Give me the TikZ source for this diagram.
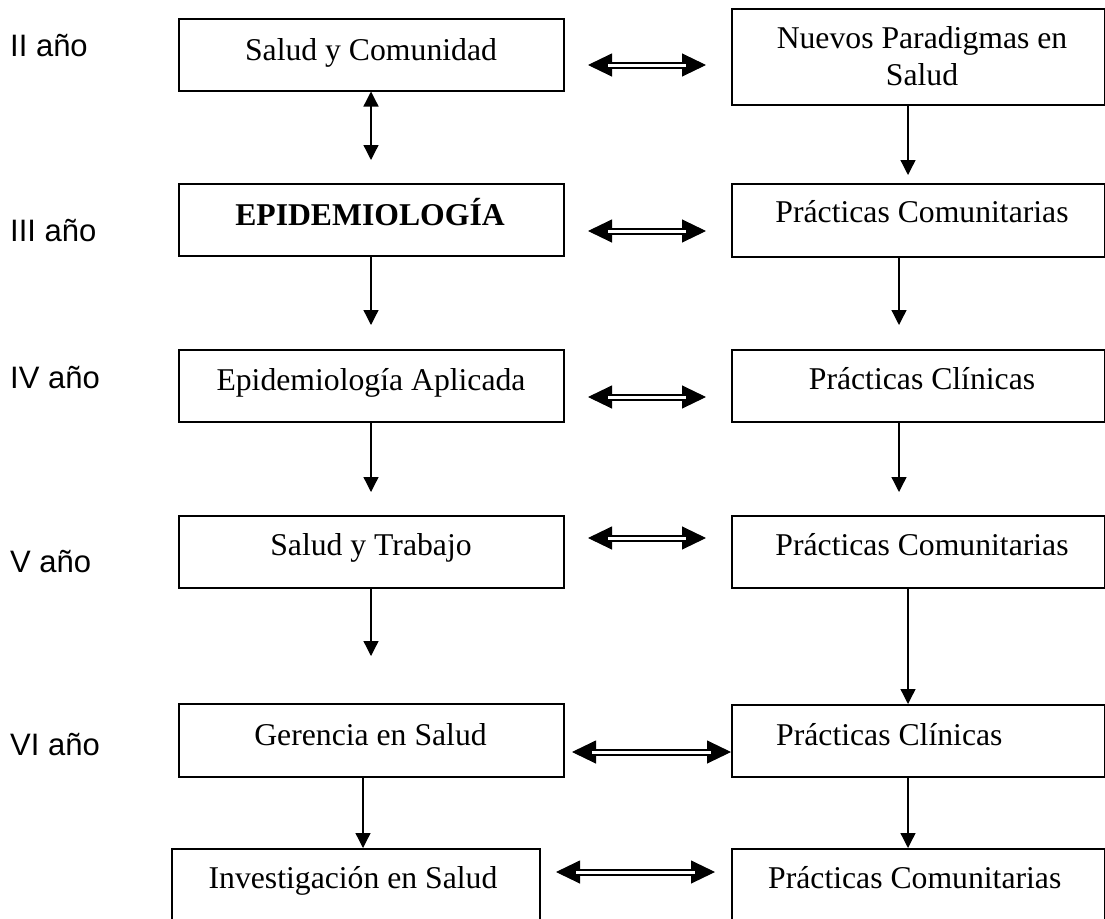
\documentclass[tikz,border=0pt]{standalone}
\usepackage{fontspec}
\setmainfont{Liberation Serif}
\newfontfamily\lblfont{Liberation Sans}
\usetikzlibrary{arrows.meta}
\begin{document}
\begin{tikzpicture}[x=1pt,y=-1pt,
  box/.style={draw, line width=1.5pt, inner sep=0pt, anchor=north west},
  txt/.style={inner sep=0pt, anchor=base, font=\fontsize{31.7}{36}\selectfont},
  txtw/.style={inner sep=0pt, anchor=base west, font=\fontsize{31.7}{36}\selectfont},
  yr/.style={inner sep=0pt, anchor=base west, font=\lblfont\fontsize{31}{36}\selectfont},
  varr/.style={line width=1.3pt, -{Triangle[width=15pt,length=15pt]}},
  vdarr/.style={line width=1.3pt, {Triangle[width=15pt,length=15pt]}-{Triangle[width=15pt,length=15pt]}},
  dhead/.style={line width=1pt, {Triangle[width=23pt,length=24pt]}-{Triangle[width=23pt,length=24pt]}},
  dshaft/.style={line width=2pt, double=white, double distance=3pt, shorten <=20pt, shorten >=20pt}
]
\useasboundingbox (0,0) rectangle (1105,918);

% year labels
\node[yr] (y2) at (10,56) {II año};
\node[yr] (y3) at (10,241) {III año};
\node[yr] (y4) at (10,388) {IV año};
\node[yr] (y5) at (10,572) {V año};
\node[yr] (y6) at (10,755) {VI año};

% left boxes
\node[box, minimum width=385pt, minimum height=72pt] (sc) at (178,18) {};
\node[box, minimum width=385pt, minimum height=72pt] (epi) at (178,183) {};
\node[box, minimum width=385pt, minimum height=72pt] (ea) at (178,349) {};
\node[box, minimum width=385pt, minimum height=72pt] (st) at (178,515) {};
\node[box, minimum width=385pt, minimum height=73pt] (ger) at (178,703) {};
\node[box, minimum width=368pt, minimum height=110pt] (inv) at (171,848) {};

% right boxes
\node[box, minimum width=373pt, minimum height=96pt] (np) at (731,8) {};
\node[box, minimum width=373pt, minimum height=73pt] (pc3) at (731,183) {};
\node[box, minimum width=373pt, minimum height=72pt] (pcl4) at (731,349) {};
\node[box, minimum width=373pt, minimum height=72pt] (pc5) at (731,515) {};
\node[box, minimum width=373pt, minimum height=72pt] (pcl6) at (731,704) {};
\node[box, minimum width=373pt, minimum height=110pt] (pc7) at (731,848) {};

% texts
\node[txt] (tsc) at (371,60) {Salud y Comunidad};
\node[txt] (tepi) at (370,225) {\bfseries EPIDEMIOLOGÍA};
\node[txt] (tea) at (371,390) {Epidemiología Aplicada};
\node[txt] (tst) at (371,555) {Salud y Trabajo};
\node[txt] (tger) at (370.5,745) {Gerencia en Salud};
\node[txt] (tinv) at (353,888) {Investigación en Salud};

\node[txt] (tnp1) at (922,48) {Nuevos Paradigmas en};
\node[txt] (tnp2) at (922,85) {Salud};
\node[txt] (tpc3) at (922,222) {Prácticas Comunitarias};
\node[txt] (tpcl4) at (922,389) {Prácticas Clínicas};
\node[txt] (tpc5) at (922,555) {Prácticas Comunitarias};
\node[txtw] (tpcl6) at (776,745) {Prácticas Clínicas};
\node[txtw] (tpc7) at (768,888) {Prácticas Comunitarias};

% vertical arrows, left column
\coordinate (e1) at (371,160);
\coordinate (e2) at (371,325);
\coordinate (e3) at (371,492);
\coordinate (e4) at (371,656);
\coordinate (c5) at (363,800);
\draw[vdarr] (sc.south -| e1) -- (e1);
\draw[varr] (epi.south -| e2) -- (e2);
\draw[varr] (ea.south -| e3) -- (e3);
\draw[varr] (st.south -| e4) -- (e4);
\draw[varr] (ger.south -| c5) -- (inv.north -| c5);

% vertical arrows, right column
\coordinate (e6) at (908,175);
\coordinate (e7) at (899,325);
\coordinate (e8) at (899,492);
\coordinate (c9) at (908,640);
\draw[varr] (np.south -| e6) -- (e6);
\draw[varr] (pc3.south -| e7) -- (e7);
\draw[varr] (pcl4.south -| e8) -- (e8);
\draw[varr] (pc5.south -| c9) -- (pcl6.north -| c9);
\draw[varr] (pcl6.south -| c9) -- (pc7.north -| c9);

% double arrows
\coordinate (dl2) at (588,65);  \coordinate (dr2) at (706,65);
\coordinate (dl3) at (588,231); \coordinate (dr3) at (706,231);
\coordinate (dl4) at (588,397); \coordinate (dr4) at (706,397);
\coordinate (dl5) at (588,538); \coordinate (dr5) at (706,538);
\coordinate (dl6) at (572,752);
\coordinate (dl7) at (556,872); \coordinate (dr7) at (715,872);
\foreach \a/\b in {dl2/dr2, dl3/dr3, dl4/dr4, dl5/dr5, dl7/dr7}{
  \draw[dhead] (\a) -- (\b);
  \draw[dshaft] (\a) -- (\b);
}
\draw[dhead] (dl6) -- (pcl6.west |- dl6);
\draw[dshaft] (dl6) -- (pcl6.west |- dl6);
\end{tikzpicture}
\end{document}
